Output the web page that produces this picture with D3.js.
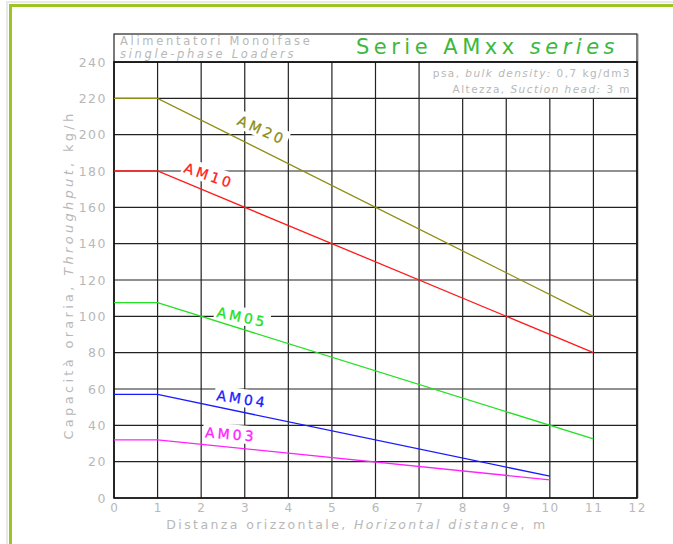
<!DOCTYPE html>
<html><head><meta charset="utf-8">
<script src="https://cdn.jsdelivr.net/npm/d3@7"></script>
<style>
body{margin:0;background:#fff;}
svg{display:block;}
text{font-family:"DejaVu Sans",sans-serif;font-weight:normal;}
</style></head>
<body>
<svg id="c" width="673" height="544"></svg>
<script>
// ---- data ----
const xTicks = [0,1,2,3,4,5,6,7,8,9,10,11,12];
const yTicks = [0,20,40,60,80,100,120,140,160,180,200,220,240];
const seriesNames = ["AM20","AM10","AM05","AM04","AM03"];
const seriesX = [
  [0,1,11],
  [0,1,11],
  [0,1,11],
  [0,1,10],
  [0,1,10]
];
const seriesY = [
  [220,220,100],
  [180,180,80],
  [107.5,107.5,32.5],
  [57,57,12],
  [32,32,10]
];
// ---- styling / layout ----
const colors = ["#8e8e14","#ff1a1a","#22e022","#1a1aff","#ff22ff"];
const labelAt = [[3.39,202.5,24],[2.18,177.5,19],[2.94,99.5,12],[2.94,54.5,9],[2.68,35,5]];

const svg = d3.select("#c");
const L=114,R=637,B=498,T=62;
const x = d3.scaleLinear().domain([0,12]).range([L,R]);
const y = d3.scaleLinear().domain([0,240]).range([B,T]);
const gray="#b8b8b8";

// green frame
svg.append("rect").attr("x",7).attr("y",2).attr("width",700).attr("height",600)
  .attr("fill","none").attr("stroke","#e8e8e8").attr("stroke-width",2);
svg.append("path").attr("d","M10.5,600 V5.5 H680").attr("fill","none")
  .attr("stroke","#9cc524").attr("stroke-width",3);

// grid
const g = svg.append("g");
yTicks.forEach(v=>{
  g.append("line").attr("x1",L).attr("x2",R).attr("y1",y(v)).attr("y2",y(v))
   .attr("stroke","#222").attr("stroke-width",1.2);
});
xTicks.forEach(v=>{
  const top = v>=7 ? y(220) : T;
  g.append("line").attr("x1",x(v)).attr("x2",x(v)).attr("y1",top).attr("y2",B)
   .attr("stroke","#222").attr("stroke-width",1.2);
});
// title box
const boxTop = 34;
svg.append("rect").attr("x",L).attr("y",boxTop).attr("width",R-L).attr("height",T-boxTop)
  .attr("fill","#fff").attr("stroke","#222").attr("stroke-width",1.2);
// info box
svg.append("rect").attr("x",x(7)).attr("y",T).attr("width",R-x(7)).attr("height",y(220)-T)
  .attr("fill","#fff").attr("stroke","#222").attr("stroke-width",1.2);
// frame border
svg.append("rect").attr("x",L).attr("y",T).attr("width",R-L).attr("height",B-T)
  .attr("fill","none").attr("stroke","#111").attr("stroke-width",1.6);
svg.append("line").attr("x1",R+1.5).attr("x2",R+1.5).attr("y1",boxTop).attr("y2",B)
  .attr("stroke","#ccc").attr("stroke-width",1);

// tick labels
svg.append("g").selectAll("text").data(yTicks).join("text")
  .attr("x",L-7).attr("y",d=>y(d)+4.5).attr("text-anchor","end")
  .attr("fill",gray).attr("font-size",12.5).attr("letter-spacing",1.5)
  .text(d=>d);
svg.append("g").selectAll("text").data(xTicks).join("text")
  .attr("x",d=>x(d)+0.75).attr("y",B+14).attr("text-anchor","middle")
  .attr("fill",gray).attr("font-size",12).attr("letter-spacing",1.5)
  .text(d=>d);

// axis titles
const xt = svg.append("text").attr("x",357).attr("y",529).attr("text-anchor","middle")
  .attr("fill",gray).attr("font-size",12.5).attr("letter-spacing",2.4);
xt.append("tspan").text("Distanza orizzontale, ");
xt.append("tspan").attr("font-style","italic").text("Horizontal distance");
xt.append("tspan").text(", m");
const yt = svg.append("text").attr("transform","translate(73,275) rotate(-90)").attr("text-anchor","middle")
  .attr("fill",gray).attr("font-size",13).attr("letter-spacing",3.3);
yt.append("tspan").text("Capacità oraria, ");
yt.append("tspan").attr("font-style","italic").text("Throughput");
yt.append("tspan").text(", kg/h");

// title texts
svg.append("text").attr("x",120).attr("y",45).attr("fill",gray).attr("font-size",11.5)
  .attr("letter-spacing",2.7).text("Alimentatori Monoifase");
svg.append("text").attr("x",120).attr("y",58).attr("fill",gray).attr("font-size",11.5)
  .attr("letter-spacing",2.7).attr("font-style","italic").text("single-phase Loaders");
const st = svg.append("text").attr("x",619).attr("y",54).attr("text-anchor","end")
  .attr("fill","#3cb83c").attr("font-size",21).attr("letter-spacing",4.5);
st.append("tspan").text("Serie AMxx ");
st.append("tspan").attr("font-style","italic").text("series");

// info texts
const i1 = svg.append("text").attr("x",631).attr("y",77).attr("text-anchor","end")
  .attr("fill",gray).attr("font-size",10.5).attr("letter-spacing",1.45);
i1.append("tspan").text("psa, ");
i1.append("tspan").attr("font-style","italic").text("bulk density:");
i1.append("tspan").text(" 0,7 kg/dm3");
const i2 = svg.append("text").attr("x",631).attr("y",93).attr("text-anchor","end")
  .attr("fill",gray).attr("font-size",10.5).attr("letter-spacing",1.45);
i2.append("tspan").text("Altezza, ");
i2.append("tspan").attr("font-style","italic").text("Suction head:");
i2.append("tspan").text(" 3 m");

// label knockouts
const lab = svg.append("g");
labelAt.forEach((p,i)=>{
  lab.append("rect").attr("x",-28).attr("y",-10).attr("width",56).attr("height",18)
    .attr("fill","#fff")
    .attr("transform",`translate(${x(p[0])},${y(p[1])}) rotate(${p[2]})`);
});

// series lines
const line = d3.line().x(d=>x(d[0])).y(d=>y(d[1]));
seriesNames.forEach((n,i)=>{
  const pts = seriesX[i].map((xv,j)=>[xv,seriesY[i][j]]);
  svg.append("path").attr("d",line(pts)).attr("fill","none")
    .attr("stroke",colors[i]).attr("stroke-width",1.3);
});
// labels
labelAt.forEach((p,i)=>{
  svg.append("text").attr("transform",`translate(${x(p[0])},${y(p[1])}) rotate(${p[2]})`)
    .attr("text-anchor","middle").attr("y",5).attr("fill",colors[i])
    .attr("font-size",14).attr("letter-spacing",3).attr("stroke",colors[i]).attr("stroke-width",0.3)
    .text(seriesNames[i]);
});
</script>
</body></html>
